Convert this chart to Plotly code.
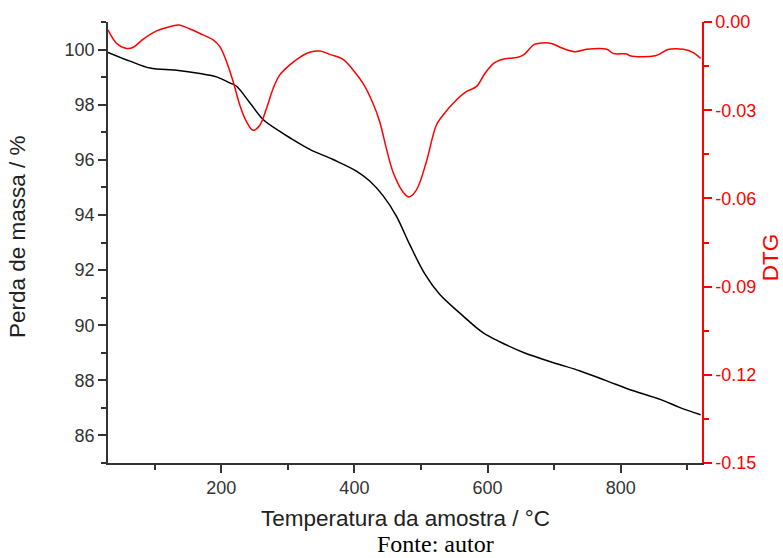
import plotly.graph_objects as go

# TG curve (mass loss, %) vs temperature (°C)
tg_temp = [30, 63, 93, 133, 168, 193, 213, 223, 243, 263, 288, 303, 333, 368, 403, 423, 443,
           463, 483, 506, 528, 563, 593, 619, 654, 699, 739, 779, 819, 859, 889, 920]
tg_mass = [99.90, 99.58, 99.33, 99.25, 99.13, 99.01, 98.79, 98.67, 98.07, 97.46, 97.03, 96.80,
           96.38, 96.01, 95.59, 95.23, 94.70, 93.96, 92.93, 91.85, 91.12, 90.34, 89.73, 89.39,
           89.01, 88.64, 88.34, 87.98, 87.62, 87.31, 87.01, 86.75]

# DTG curve
dtg_temp = [30, 43, 58, 68, 83, 103, 118, 136, 153, 168, 188, 198, 208, 218, 228, 238, 248,
            258, 268, 278, 288, 303, 318, 333, 348, 363, 383, 398, 413, 428, 438, 448, 458,
            473, 482, 493, 508, 523, 533, 548, 568, 583, 596, 609, 619, 629, 644, 654, 669,
            676, 696, 709, 731, 749, 779, 789, 809, 814, 852, 872, 894, 909, 920]
dtg_val = [-0.0027, -0.0073, -0.0090, -0.0086, -0.0058, -0.0030, -0.0019, -0.0010, -0.0024,
           -0.0039, -0.0061, -0.0084, -0.0135, -0.0203, -0.0283, -0.0339, -0.0368, -0.0351,
           -0.0294, -0.0226, -0.0180, -0.0146, -0.0120, -0.0103, -0.0099, -0.0110, -0.0127,
           -0.0163, -0.0209, -0.0277, -0.0339, -0.0430, -0.0510, -0.0578, -0.0595, -0.0572,
           -0.0476, -0.0351, -0.0317, -0.0277, -0.0237, -0.0220, -0.0175, -0.0141, -0.0129,
           -0.0124, -0.0121, -0.0112, -0.0078, -0.0073, -0.0073, -0.0086, -0.0101, -0.0093,
           -0.0093, -0.0107, -0.0109, -0.0115, -0.0115, -0.0093, -0.0093, -0.0104, -0.0124]

dtg_tickvals = [0.0, -0.03, -0.06, -0.09, -0.12, -0.15]
dtg_ticktext = ["0.00", "-0.03", "-0.06", "-0.09", "-0.12", "-0.15"]

AX = "#333333"
RED = "#ff0000"
FONT = "Liberation Sans, Arial, sans-serif"
TICK = 18

fig = go.Figure()
fig.add_trace(go.Scatter(x=tg_temp, y=tg_mass, mode="lines", line=dict(color="#000000", width=1.5),
                         line_shape="spline", showlegend=False))
fig.add_trace(go.Scatter(x=dtg_temp, y=dtg_val, mode="lines", line=dict(color=RED, width=1.5),
                         line_shape="spline", yaxis="y2", showlegend=False))

fig.update_layout(
    width=783, height=558,
    margin=dict(l=108, r=81, t=22, b=95),
    paper_bgcolor="white", plot_bgcolor="white",
    font=dict(family=FONT, size=TICK, color=AX),
    xaxis=dict(range=[30, 922], dtick=200, tick0=0, showgrid=False, zeroline=False,
               showline=True, linecolor=AX, linewidth=1.5,
               ticks="outside", ticklen=8, tickwidth=1.5, tickcolor=AX,
               minor=dict(ticks="outside", ticklen=5, tickwidth=1.5, tickcolor=AX, dtick=100, tick0=0),
               tickfont=dict(size=TICK, color=AX)),
    yaxis=dict(range=[85, 101], dtick=2, tick0=0, showgrid=False, zeroline=False,
               showline=True, linecolor=AX, linewidth=1.5,
               ticks="outside", ticklen=8, tickwidth=1.5, tickcolor=AX,
               minor=dict(ticks="outside", ticklen=5, tickwidth=1.5, tickcolor=AX, dtick=1, tick0=0),
               tickfont=dict(size=TICK, color=AX)),
    yaxis2=dict(range=[-0.15, 0.0], overlaying="y", side="right", showgrid=False, zeroline=False,
                tickvals=dtg_tickvals, ticktext=dtg_ticktext,
                showline=True, linecolor=RED, linewidth=1.5,
                ticks="outside", ticklen=8, tickwidth=1.5, tickcolor=RED,
                minor=dict(ticks="outside", ticklen=5, tickwidth=1.5, tickcolor=RED, dtick=0.015, tick0=0),
                tickfont=dict(size=TICK, color=RED)),
    annotations=[
        dict(text="Temperatura da amostra / °C", xref="paper", yref="paper", x=0.5, y=-0.125,
             xanchor="center", yanchor="middle", showarrow=False,
             font=dict(family=FONT, size=22.5, color="#222222")),
        dict(text="Perda de massa / %", xref="paper", yref="paper", x=-0.152, y=0.514,
             xanchor="center", yanchor="middle", textangle=-90, showarrow=False,
             font=dict(family=FONT, size=22.5, color="#222222")),
        dict(text="DTG", xref="paper", yref="paper", x=1.115, y=0.467,
             xanchor="center", yanchor="middle", textangle=-90, showarrow=False,
             font=dict(family=FONT, size=22.5, color=RED)),
        dict(text="Fonte: autor", xref="paper", yref="paper", x=0.552, y=-0.183,
             xanchor="center", yanchor="middle", showarrow=False,
             font=dict(family="Liberation Serif, Times New Roman, serif", size=24, color="black")),
    ],
)

fig.write_html("out.html")
